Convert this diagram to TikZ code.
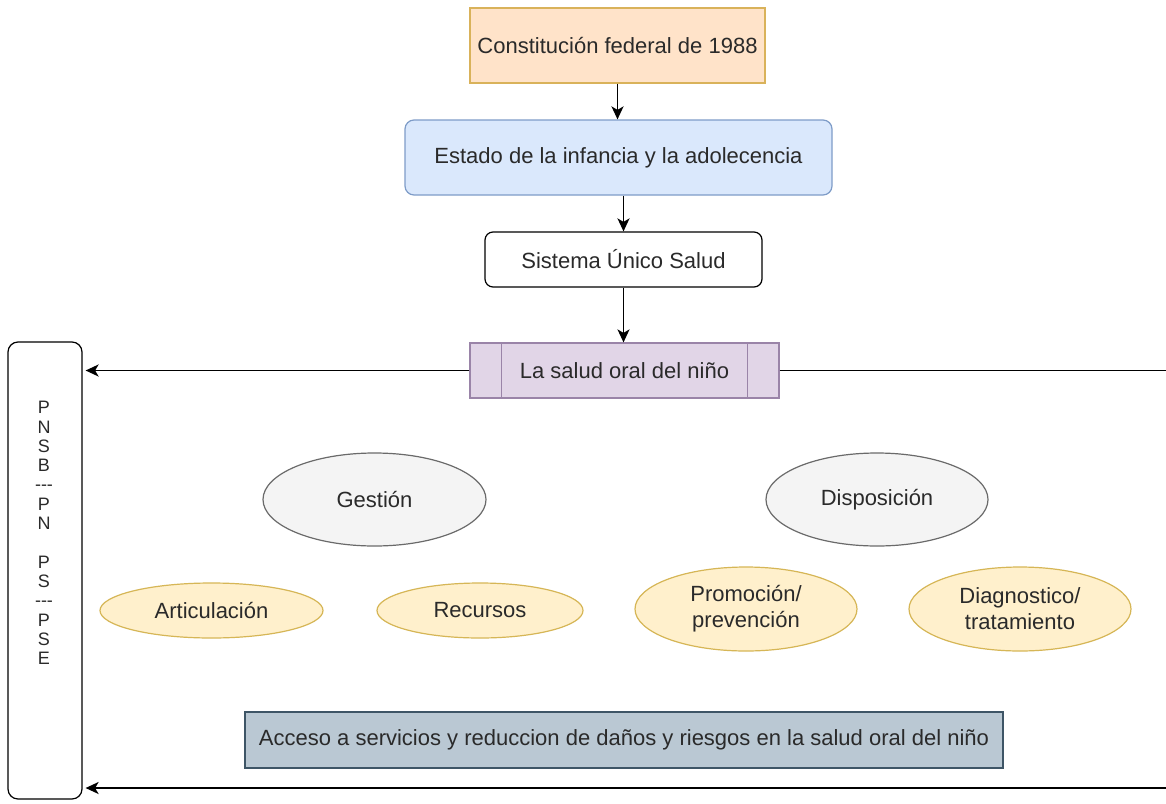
\documentclass[tikz,border=0pt]{standalone}
\usepackage{fontspec}
\setmainfont{Liberation Sans}
\usetikzlibrary{shapes.geometric,arrows.meta}
\definecolor{txt}{HTML}{2A2A2A}
\definecolor{constf}{HTML}{FFE3C9}
\definecolor{constd}{HTML}{D9B25A}
\definecolor{estf}{HTML}{DAE8FC}
\definecolor{estd}{HTML}{7E9CC8}
\definecolor{saludf}{HTML}{E1D5E7}
\definecolor{saludd}{HTML}{9A84A8}
\definecolor{grayf}{HTML}{F4F4F4}
\definecolor{grayd}{HTML}{6A6A6A}
\definecolor{yelf}{HTML}{FFF0CC}
\definecolor{yeld}{HTML}{D6B656}
\definecolor{accf}{HTML}{BAC8D3}
\definecolor{accd}{HTML}{3E5566}
\newcommand\pnsbfont{\fontsize{18}{19.3}\selectfont\lineskiplimit-50pt\relax}
\begin{document}
\begin{tikzpicture}[x=1pt,y=-1pt,
  base/.style={inner sep=0pt, font=\fontsize{22}{26}\selectfont, text=txt, line width=1.2pt, align=center},
  gray ell/.style={base, ellipse, draw=grayd, fill=grayf},
  yel ell/.style={base, ellipse, draw=yeld, fill=yelf},
  arr/.style={line width=1.8pt, draw=black, -{Stealth[length=13pt,width=12pt,inset=3.5pt]}},
  plain/.style={line width=1.8pt, draw=black}]
\useasboundingbox (0,0) rectangle (1166,803);
\fill[white] (0,0) rectangle (1166,803);

\node[base, draw=constd, fill=constf, minimum width=295pt, minimum height=75pt] (const) at (617.5,45.5) {Constitución federal de 1988};
\node[base, rounded corners=9pt, draw=estd, fill=estf, minimum width=427pt, minimum height=75pt] (estado) at (618.5,157.5) {Estado de la infancia y la adolecencia};
\node[base, rounded corners=8pt, draw=black, fill=white, minimum width=277pt, minimum height=55pt] (sus) at (623.5,259.5) {Sistema Único Salud};
\node[base, draw=saludd, fill=saludf, minimum width=309pt, minimum height=55pt] (salud) at (624.5,370.5) {La salud oral del niño};
\draw[draw=saludd, line width=1.2pt] ([xshift=32pt]salud.north west) -- ([xshift=32pt]salud.south west);
\draw[draw=saludd, line width=1.2pt] ([xshift=-32pt]salud.north east) -- ([xshift=-32pt]salud.south east);

\node[base, draw=black, fill=white, rounded corners=10pt, minimum width=74pt, minimum height=457pt] (pnsb) at (45,570.5) {};
\node[base, font=\pnsbfont] (pnsbtxt) at (44,533) {P\\N\\S\\B\\-\kern0pt-\kern0pt-\\P\\N\\ \\P\\S\\-\kern0pt-\kern0pt-\\P\\S\\E};

\node[gray ell, minimum width=223pt, minimum height=93pt] (gestion) at (374.5,499.5) {Gestión};
\node[gray ell, minimum width=222pt, minimum height=93pt] (dispos) at (877,499.5) {Disposición};

\node[yel ell, minimum width=223pt, minimum height=55pt] (artic) at (211.5,610.5) {Articulación};
\node[yel ell, minimum width=206pt, minimum height=55pt] (recur) at (480,610.5) {Recursos};
\node[yel ell, minimum width=222pt, minimum height=84pt] (promo) at (746,609) {Promoción/\\prevención};
\node[yel ell, minimum width=222pt, minimum height=84pt] (diag) at (1020,609) {Diagnostico/\\tratamiento};

\node[base, draw=accd, fill=accf, minimum width=758pt, minimum height=56pt] (acceso) at (624,740) {Acceso a servicios y reduccion de daños y riesgos en la salud oral del niño};

\coordinate (rtop) at (1166,370.5);
\coordinate (rbot) at (1166,788);

\draw[arr] (const.south) -- (const.south |- estado.north);
\draw[arr] (sus.north |- estado.south) -- (sus.north);
\draw[arr] (sus.south) -- (sus.south |- salud.north);
\draw[arr, shorten >=3pt] (salud.west) -- (salud.west -| pnsb.east);
\draw[plain] (salud.east) -- (rtop);
\draw[arr, shorten >=3pt] (rbot) -- (rbot -| pnsb.east);
\end{tikzpicture}
\end{document}
